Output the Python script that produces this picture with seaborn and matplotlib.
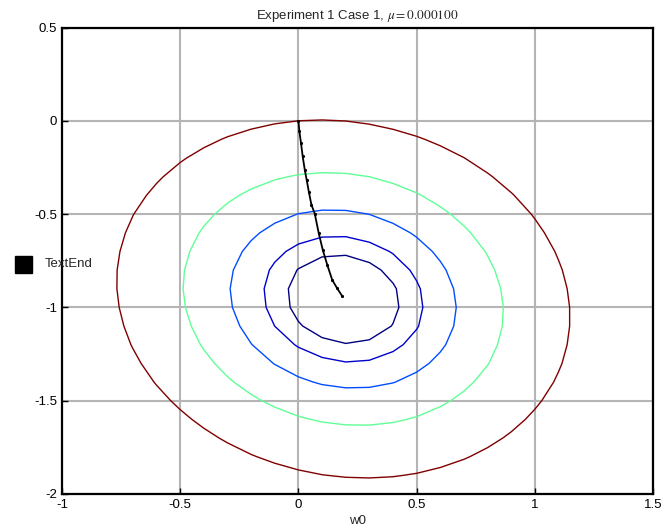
import numpy as np
import matplotlib
matplotlib.use("Agg")
import matplotlib.pyplot as plt
from matplotlib.patches import Rectangle
import seaborn as sns

# error surface J(w) = (w - w_opt)^T R (w - w_opt), contour levels halve each step
w_opt = [0.19, -0.955]
R = [[1.0, 0.1], [0.1, 1.0]]
levels = [0.057, 0.114, 0.228, 0.456, 0.912]

# LMS weight trajectory
traj_w0 = [0.0, 0.004, 0.011, 0.018, 0.027, 0.035, 0.044, 0.055, 0.069,
           0.086, 0.103, 0.122, 0.143, 0.164, 0.185]
traj_w1 = [0.0, -0.057, -0.12, -0.19, -0.264, -0.317, -0.38, -0.45, -0.497,
           -0.603, -0.692, -0.772, -0.853, -0.898, -0.939]

xticks = [-1, -0.5, 0, 0.5, 1, 1.5]
yticks = [-2, -1.5, -1, -0.5, 0, 0.5]

sns.set_theme(style="ticks")
plt.rcParams["font.family"] = ["Liberation Sans", "DejaVu Sans"]
plt.rcParams["mathtext.fontset"] = "stix"

fig = plt.figure(figsize=(6.63, 5.31), dpi=100)
ax = fig.add_axes([0.0935, 0.0697, 0.8915, 0.8785])

# coarse 0.1 grid like the original
g0 = np.round(np.arange(-1.0, 1.5001, 0.1), 2)
g1 = np.round(np.arange(-2.0, 0.5001, 0.1), 2)
W0, W1 = np.meshgrid(g0, g1)
d0 = W0 - w_opt[0]
d1 = W1 - w_opt[1]
J = R[0][0] * d0**2 + 2 * R[0][1] * d0 * d1 + R[1][1] * d1**2

ax.contour(W0, W1, J, levels=levels, cmap="jet", linewidths=1.0, zorder=3)

sns.lineplot(x=traj_w0, y=traj_w1, sort=False, estimator=None, color="black",
             linewidth=1.3, marker="o", markersize=1.5, markeredgecolor="black",
             markerfacecolor="black", ax=ax, zorder=4)

ax.set_xlim(-1, 1.5)
ax.set_ylim(-2, 0.5)
ax.set_xticks(xticks)
ax.set_xticklabels(["-1", "-0.5", "0", "0.5", "1", "1.5"])
ax.set_yticks(yticks)
ax.set_yticklabels(["-2", "-1.5", "-1", "-0.5", "0", "0.5"])
ax.grid(True, color="#b5b5b5", linewidth=1.5, zorder=0)
ax.set_axisbelow(True)
ax.tick_params(direction="in", length=4, width=1, labelsize=9.5, colors="black")
for s in ax.spines.values():
    s.set_color("black")
    s.set_linewidth(1.6)

ax.set_xlabel("w0", fontsize=9.5, labelpad=3)
ax.set_title(r"Experiment 1 Case 1, $\mu = 0.000100$", fontsize=9.5, pad=6)

# legend-like marker at left
fig.add_artist(Rectangle((15 / 663, 1 - 273 / 531), 17 / 663, 17 / 531,
                         transform=fig.transFigure, color="black"))
fig.text(45 / 663, 1 - 264 / 531, "TextEnd", fontsize=9.5, va="center", ha="left")

fig.savefig("out.png", dpi=100)
